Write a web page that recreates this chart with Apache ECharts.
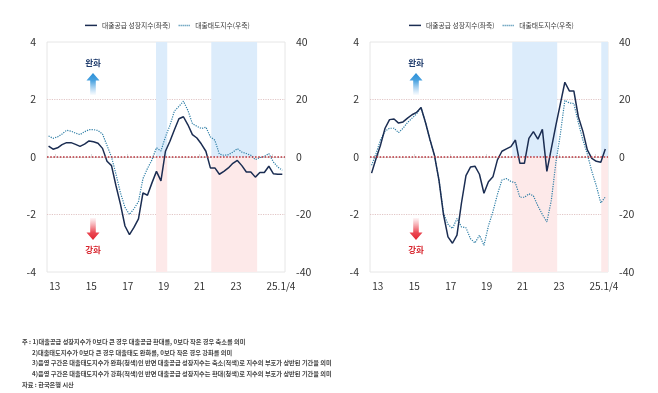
<!DOCTYPE html>
<html><head><meta charset="utf-8">
<script src="https://cdn.jsdelivr.net/npm/echarts@6/dist/echarts.min.js"></script>
<style>html,body{margin:0;padding:0;background:#fff}#c{width:658px;height:393px}</style>
</head><body><div id="c"></div>
<script>
// Quarterly observations, index 0 .. 52 (last = 2025 Q1)
const leftSupply = [0.38,0.27,0.32,0.43,0.50,0.50,0.44,0.37,0.45,0.56,0.53,0.48,0.30,-0.15,-0.30,-1.0,-1.65,-2.4,-2.7,-2.45,-2.15,-1.25,-1.33,-0.9,-0.5,-0.83,0.2,0.55,0.95,1.33,1.40,1.12,0.78,0.66,0.45,0.2,-0.38,-0.38,-0.6,-0.5,-0.38,-0.22,-0.12,-0.3,-0.52,-0.52,-0.7,-0.54,-0.54,-0.32,-0.58,-0.6,-0.6];
const leftAttitude = [7.3,6.5,7.0,8.0,9.3,9.0,8.3,7.8,8.8,9.5,9.5,9.2,8.0,4.0,0,-6,-12.5,-17.5,-20,-18,-15.5,-7.5,-4,-1,3.2,2.1,7,11,16,17.6,19.4,16.2,11.6,10.7,9.9,10.4,7,5.8,1.0,0.6,0.8,1.7,2.9,1.7,1.2,0.6,-0.9,-0.2,0.2,1.2,-1.7,-3.5,-4.6];
const rightSupply = [-0.56,-0.05,0.42,1.0,1.30,1.32,1.18,1.22,1.35,1.47,1.55,1.72,1.2,0.6,0.05,-0.81,-2.0,-2.78,-3.0,-2.72,-1.6,-0.65,-0.35,-0.32,-0.6,-1.26,-0.86,-0.69,-0.1,0.2,0.28,0.36,0.59,-0.22,-0.22,0.65,0.88,0.62,0.96,-0.5,0.3,1.1,1.85,2.6,2.3,2.3,1.4,0.9,0.25,-0.05,-0.15,-0.18,0.28];
const rightAttitude = [-2.9,1.2,6,9,10,10,8.5,10,12,13.5,15,17.2,12,6,0.5,-8,-19.5,-23.4,-24.9,-21.4,-24.3,-24.6,-28.4,-29.9,-27.2,-30.7,-24,-19,-13,-8,-7.5,-8.5,-9,-14,-14,-12.8,-13.5,-17,-20,-22.6,-15,-2,8,19.7,18.8,18.6,12,6,1,-5,-10,-16,-13.9];

// x tick labels and their quarter positions
const tickLabels = ['13','15','17','19','21','23','25.1/4'];
const tickPos = [1.4,9.5,17.6,25.6,33.6,41.7,49.8];
const labelPos = [1.4,9.5,17.6,25.6,33.6,41.7,51.7];

// shaded periods (quarter index ranges)
const leftBands = [[23.9,26.4],[36.2,46.4]];
const rightBands = [[31.3,41.3],[51.1,52.6]];

const names = ['대출공급 성장지수(좌축)','대출태도지수(우축)'];

const FONT = 'Noto Sans CJK KR';
const chart = echarts.init(document.getElementById('c'), null, {renderer:'canvas'});

const grids = [
  {left:47, top:42, width:238, height:230, show:true, borderColor:'#e6e6e6', borderWidth:1},
  {left:370, top:42, width:238, height:230, show:true, borderColor:'#e6e6e6', borderWidth:1}
];

function xAxis(i){
  return {gridIndex:i, type:'value', min:-0.35, max:52.6,
    axisLine:{show:true, lineStyle:{color:'#e2e2e2'}},
    axisTick:{show:true, inside:true, length:3, customValues:tickPos, lineStyle:{color:'#dcdcdc'}},
    axisLabel:{customValues:labelPos, margin:9, fontSize:10, color:'#333', fontFamily:FONT,
      formatter:function(v){ for(let j=0;j<labelPos.length;j++){ if(Math.abs(labelPos[j]-v)<0.01) return tickLabels[j]; } return ''; }},
    splitLine:{show:false}};
}
function yLeft(i){
  return {gridIndex:i, type:'value', min:-4, max:4, interval:2, position:'left',
    axisLine:{show:false}, axisTick:{show:false},
    axisLabel:{margin:11, fontSize:10.5, color:'#333', fontFamily:FONT},
    splitLine:{show:true, showMinLine:false, showMaxLine:false, lineStyle:{type:'dotted', color:'#e2c6c6', width:1.2}}};
}
function yRight(i){
  return {gridIndex:i, type:'value', min:-40, max:40, interval:20, position:'right',
    axisLine:{show:false}, axisTick:{show:false},
    axisLabel:{margin:11, fontSize:10.5, color:'#333', fontFamily:FONT},
    splitLine:{show:false}};
}
function bandsData(b){
  const out=[];
  b.forEach(r=>{
    out.push([{xAxis:r[0], yAxis:0, itemStyle:{color:'#dcecfb'}},{xAxis:r[1], yAxis:4}]);
    out.push([{xAxis:r[0], yAxis:-4, itemStyle:{color:'#fde9e9'}},{xAxis:r[1], yAxis:0}]);
  });
  return out;
}
function lineSeries(i, supply, attitude, bands){
  return [
    {name:names[0], type:'line', xAxisIndex:i, yAxisIndex:i*2, data:supply.map((v,k)=>[k,v]),
      symbol:'none', lineStyle:{color:'#1b2d52', width:1.5}, itemStyle:{color:'#1b2d52'}, z:4,
      markArea:{silent:true, data:bandsData(bands)},
      markLine:{silent:true, symbol:'none', label:{show:false}, data:[{yAxis:0}],
        lineStyle:{type:'dotted', color:'#b8343c', width:1.6}}},
    {name:names[1], type:'line', xAxisIndex:i, yAxisIndex:i*2+1, data:attitude.map((v,k)=>[k,v]),
      symbol:'none', lineStyle:{color:'#2e7ea6', width:1.2, type:'dotted'}, itemStyle:{color:'#2e7ea6'}, z:3}
  ];
}

function arrowGraphics(cx){
  const up = {type:'polygon', shape:{points:[[cx,73],[cx+6.5,80.5],[cx+2.8,80.5],[cx+2.8,95],[cx-2.8,95],[cx-2.8,80.5],[cx-6.5,80.5]]},
    style:{fill:new echarts.graphic.LinearGradient(0,0,0,1,[{offset:0,color:'#2a8fd8'},{offset:0.35,color:'#4ba3e0'},{offset:1,color:'rgba(120,185,235,0.05)'}])}};
  const down = {type:'polygon', shape:{points:[[cx-2.8,218],[cx+2.8,218],[cx+2.8,232.5],[cx+6.5,232.5],[cx,240],[cx-6.5,232.5],[cx-2.8,232.5]]},
    style:{fill:new echarts.graphic.LinearGradient(0,0,0,1,[{offset:0,color:'rgba(240,120,130,0.08)'},{offset:0.65,color:'#ec4a55'},{offset:1,color:'#e0242f'}])}};
  const t1 = {type:'text', x:cx, y:63, style:{text:'완화', fill:'#1d3a6b', font:'bold 8.5px "'+FONT+'"', align:'center', verticalAlign:'middle'}};
  const t2 = {type:'text', x:cx, y:250, style:{text:'강화', fill:'#d8262f', font:'bold 8.5px "'+FONT+'"', align:'center', verticalAlign:'middle'}};
  return [up, down, t1, t2];
}

const notes = [
  '주 : 1)대출공급 성장지수가 0보다 큰 경우 대출공급 확대를, 0보다 작은 경우 축소를 의미',
  '2)대출태도지수가 0보다 큰 경우 대출태도 완화를, 0보다 작은 경우 강화를 의미',
  '3)음영 구간은 대출태도지수가 완화(청색)인 반면 대출공급 성장지수는 축소(적색)로 지수의 부호가 상반된 기간을 의미',
  '4)음영 구간은 대출태도지수가 강화(적색)인 반면 대출공급 성장지수는 확대(청색)로 지수의 부호가 상반된 기간을 의미',
  '자료 : 한국은행 시산'
];
const noteX = [22,32,32,32,22];
const noteY = [341.7,352.3,363,373.8,384.5];
const noteG = notes.map((t,i)=>({type:'text', x:noteX[i], y:noteY[i],
  style:{text:t, fill:'#444', font:'bold 6.2px "'+FONT+'"', align:'left', verticalAlign:'middle'}}));

const solidIcon = 'path://M0,0L24,0L24,3L0,3Z';
const dotIcon = 'path://M0,0L2,0L2,3L0,3ZM4,0L6,0L6,3L4,3ZM8,0L10,0L10,3L8,3ZM12,0L14,0L14,3L12,3ZM16,0L18,0L18,3L16,3ZM20,0L22,0L22,3L20,3Z';
const legendBase = {top:17, itemWidth:12, itemHeight:1.5, itemGap:8,
  data:[{name:names[0], icon:solidIcon},{name:names[1], icon:dotIcon}],
  textStyle:{fontSize:6.8, color:'#3a3a3a', fontFamily:FONT}, selectedMode:false};

chart.setOption({
  animation:false,
  textStyle:{fontFamily:FONT},
  legend:[Object.assign({left:80}, legendBase), Object.assign({left:404}, legendBase)],
  grid:grids,
  xAxis:[xAxis(0), xAxis(1)],
  yAxis:[yLeft(0), yRight(0), yLeft(1), yRight(1)],
  series:[].concat(lineSeries(0,leftSupply,leftAttitude,leftBands), lineSeries(1,rightSupply,rightAttitude,rightBands)),
  graphic:[].concat(arrowGraphics(93), arrowGraphics(416), noteG)
});
</script></body></html>
